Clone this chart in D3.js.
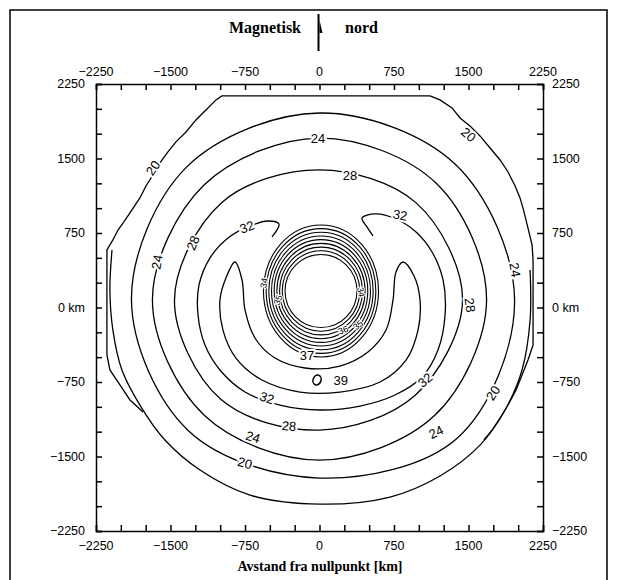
<!DOCTYPE html>
<html>
<head>
<meta charset="utf-8">
<script src="https://cdn.jsdelivr.net/npm/d3@7"></script>
<style>
  body { margin: 0; background: #fff; }
  svg { display: block; }
  .lbl { font-family: "Liberation Sans", Arial, sans-serif; font-size: 12.5px; fill: #000; }
  .clbl { font-family: "Liberation Sans", Arial, sans-serif; font-size: 13px; fill: #000;
          stroke: #fff; stroke-width: 4px; paint-order: stroke; }
  .slbl { font-family: "Liberation Sans", Arial, sans-serif; font-size: 9px; fill: #000;
          stroke: #fff; stroke-width: 2px; paint-order: stroke; }
</style>
</head>
<body>
<svg id="chart" width="617" height="580"></svg>
<script>
// axis ticks (km)
const majorTicks = [-2250, -1500, -750, 0, 750, 1500, 2250];
const minorTicks = d3.range(-2250, 2251, 250);

// smooth contours, radii (km) around a common centre at these angles (deg, ccw from east)
const contourCentre = [0, 75];
const contourAngles = [0, 45, 90, 135, 180, 225, 270, 315];
const contourA = [1964, 1933, 1883, 1893, 1893, 1863, 1792, 1964];
const contourB = [1682, 1662, 1631, 1641, 1682, 1641, 1611, 1641];
const contourC = [1440, 1380, 1310, 1390, 1460, 1410, 1309, 1359];

// inner rings round the central low
const ringCentre = [15, 166];
const ringRx = [362, 390, 417, 444, 471, 498, 525, 552, 579];
const ringRy = [368, 405, 442, 480, 517, 554, 591, 628, 665];

// outer jagged 20-line
const jagged = [
  [-1777, -1052], [-1908, -931], [-2009, -780], [-2110, -629], [-2140, -478],
  [-2140, 579], [-2080, 680], [-2029, 780], [-1969, 861], [-1888, 982],
  [-1808, 1103], [-1747, 1223], [-1677, 1334], [-1606, 1455], [-1526, 1566],
  [-1445, 1667], [-1344, 1767], [-1244, 1888], [-1143, 1989], [-1042, 2090],
  [-982, 2130], [1113, 2130], [1213, 2090], [1334, 2009], [1415, 1908],
  [1515, 1828], [1616, 1727], [1717, 1606], [1818, 1485], [1898, 1364],
  [1969, 1223], [2019, 1103], [2059, 962], [2099, 800], [2140, 629],
  [2150, 478], [2150, -378], [2099, -529], [2039, -680], [1979, -831],
  [1898, -982], [1818, -1113], [1737, -1234], [1656, -1334]
];

// outer smooth arc along the lower half
const lowerArc = [
  [-2089, 579], [-2110, 176], [-2080, -227], [-1989, -629], [-1808, -982],
  [-1556, -1334], [-1203, -1636], [-700, -1888], [5, -1979], [710, -1908],
  [1213, -1696], [1616, -1385], [1868, -1032], [2039, -629], [2120, -126], [2120, 378]
];

// 32-line with the two hooks at the top
const line32 = [
  [-478, 710], [-408, 841], [-519, 871], [-700, 821], [-921, 700], [-1103, 498],
  [-1213, 227], [-1223, -76], [-1153, -378], [-1002, -629], [-750, -851],
  [-398, -982], [5, -1032], [408, -992], [760, -881], [1032, -700], [1193, -428],
  [1264, -76], [1244, 277], [1133, 559], [972, 760], [770, 891], [559, 942],
  [428, 901], [478, 811], [539, 720]
];

// crescent round the 39 maximum
const crescent = [
  [-851, 458], [-942, 297], [-1002, 76], [-972, -227], [-841, -509], [-579, -730],
  [-196, -851], [206, -851], [609, -750], [871, -529], [992, -227], [1012, 76],
  [952, 317], [841, 458], [770, 357], [740, 76], [670, -227], [488, -448],
  [206, -589], [-146, -609], [-448, -509], [-650, -307], [-750, -25], [-780, 277]
];

// contour labels: text, x, y (km), rotation
const contourLabels = [
  ["20", -1676, 1405, -55], ["20", 1500, 1740, 42], ["20", 1747, -861, -58], ["20", -750, -1566, 15],
  ["24", -15, 1707, 0], ["24", -1636, 458, -80], ["24", -670, -1304, 18], ["24", 1173, -1254, -25],
  ["24", 1968, 378, 80],
  ["28", 307, 1334, 0], ["28", -1274, 650, -68], ["28", -307, -1193, 5], ["28", 1515, 25, 82],
  ["32", -730, 811, -20], ["32", 811, 931, 10], ["32", -529, -911, 18], ["32", 1062, -730, -40],
  ["37", -126, -478, 0], ["39", 215, -730, 0]
];

// small labels on the inner rings
const ringLabels = [
  ["34", -559, 247, -80], ["35", -418, 76, -70], ["34", 418, 156, 80],
  ["36", 237, -227, -20], ["35", 388, -176, -40]
];

const svg = d3.select('#chart');
const x = d3.scaleLinear().domain([-2250, 2250]).range([96, 543]);
const y = d3.scaleLinear().domain([-2250, 2250]).range([531, 84]);
const r = d3.scaleLinear().domain([0, 4500]).range([0, 447]);

svg.append('rect').attr('width', 617).attr('height', 580).attr('fill', '#fff');

// outer picture border (bottom edge falls outside)
svg.append('path')
  .attr('d', 'M10,585V10H607V585')
  .attr('fill', 'none').attr('stroke', '#000').attr('stroke-width', 1.5);

// title with north arrow
svg.append('text').attr('x', 301).attr('y', 33).attr('text-anchor', 'end')
  .attr('font-family', 'Liberation Serif, serif').attr('font-weight', 'bold').attr('font-size', 16)
  .text('Magnetisk');
svg.append('text').attr('x', 345).attr('y', 33)
  .attr('font-family', 'Liberation Serif, serif').attr('font-weight', 'bold').attr('font-size', 16)
  .text('nord');
svg.append('line').attr('x1', x(0) - 1).attr('x2', x(0) - 1).attr('y1', 14).attr('y2', 51)
  .attr('stroke', '#000').attr('stroke-width', 2);
svg.append('path').attr('d', `M${x(0)},20 L${x(0) + 3},33 L${x(0)},33 Z`).attr('fill', '#000');

// frame and inward ticks
const g = svg.append('g');
const axisSpecs = [
  [d3.axisBottom(x), `translate(0,${y(-2250)})`],
  [d3.axisTop(x), `translate(0,${y(2250)})`],
  [d3.axisLeft(y), `translate(${x(-2250)},0)`],
  [d3.axisRight(y), `translate(${x(2250)},0)`]
];
axisSpecs.forEach(([axis, tr]) => {
  g.append('g').attr('transform', tr)
    .call(axis.tickValues(minorTicks).tickSize(-6).tickFormat(''))
    .call(s => s.selectAll('line').attr('stroke', '#000').attr('stroke-width', 1.5))
    .call(s => s.select('.domain').attr('stroke', '#000').attr('stroke-width', 1.5));
});

const fmt = (d) => (d < 0 ? '\u2212' + Math.abs(d) : String(d));

// tick labels
[-1, 1].forEach((side) => {
  svg.append('g').selectAll('text').data(majorTicks).join('text')
    .attr('class', 'lbl').attr('text-anchor', 'middle')
    .attr('x', (d) => x(d))
    .attr('y', side > 0 ? 76 : 550)
    .text(fmt);
});
svg.append('g').selectAll('text').data(majorTicks).join('text')
  .attr('class', 'lbl').attr('text-anchor', 'end')
  .attr('x', 85).attr('y', (d) => y(d) + 4)
  .text((d) => (d === 0 ? '0 km' : fmt(d)));
svg.append('g').selectAll('text').data(majorTicks).join('text')
  .attr('class', 'lbl').attr('text-anchor', 'start')
  .attr('x', 552).attr('y', (d) => y(d) + 4)
  .text((d) => (d === 0 ? '0 km' : fmt(d)));

svg.append('text').attr('x', 320).attr('y', 571).attr('text-anchor', 'middle')
  .attr('font-family', 'Liberation Serif, serif').attr('font-weight', 'bold').attr('font-size', 14)
  .text('Avstand fra nullpunkt [km]');

// contours
const plot = svg.append('g').attr('fill', 'none').attr('stroke', '#000').attr('stroke-width', 1.3);
const lineOpen = d3.line().x((d) => x(d[0])).y((d) => y(d[1])).curve(d3.curveCatmullRom);
const lineClosed = d3.line().x((d) => x(d[0])).y((d) => y(d[1])).curve(d3.curveCatmullRomClosed);

const polar = (radii) => radii.map((rad, i) => {
  const a = contourAngles[i] * Math.PI / 180;
  return [contourCentre[0] + rad * Math.cos(a), contourCentre[1] + rad * Math.sin(a)];
});

[contourA, contourB, contourC].forEach((radii) => {
  plot.append('path').attr('d', lineClosed(polar(radii)));
});
plot.append('path').attr('d', d3.line().x((d) => x(d[0])).y((d) => y(d[1]))(jagged));
plot.append('path').attr('d', lineOpen(lowerArc));
plot.append('path').attr('d', lineOpen(line32));
plot.append('path').attr('d', lineClosed(crescent));

plot.selectAll('ellipse').data(ringRx).join('ellipse')
  .attr('cx', x(ringCentre[0])).attr('cy', y(ringCentre[1]))
  .attr('rx', (d) => r(d)).attr('ry', (d, i) => r(ringRy[i]))
  .attr('stroke-width', 1.1);

// contour labels
svg.append('g').selectAll('text').data(contourLabels).join('text')
  .attr('class', 'clbl').attr('text-anchor', 'middle').attr('dy', '0.35em')
  .attr('transform', (d) => `translate(${x(d[1])},${y(d[2])}) rotate(${d[3]})`)
  .text((d) => d[0]);

svg.append('g').selectAll('text').data(ringLabels).join('text')
  .attr('class', 'slbl').attr('text-anchor', 'middle').attr('dy', '0.35em')
  .attr('transform', (d) => `translate(${x(d[1])},${y(d[2])}) rotate(${d[3]})`)
  .text((d) => d[0]);

// marker of the 39 maximum
svg.append('ellipse').attr('cx', x(-25)).attr('cy', y(-730)).attr('rx', 4).attr('ry', 5)
  .attr('transform', `rotate(20,${x(-25)},${y(-730)})`)
  .attr('fill', 'none').attr('stroke', '#000').attr('stroke-width', 1.5);
</script>
</body>
</html>
